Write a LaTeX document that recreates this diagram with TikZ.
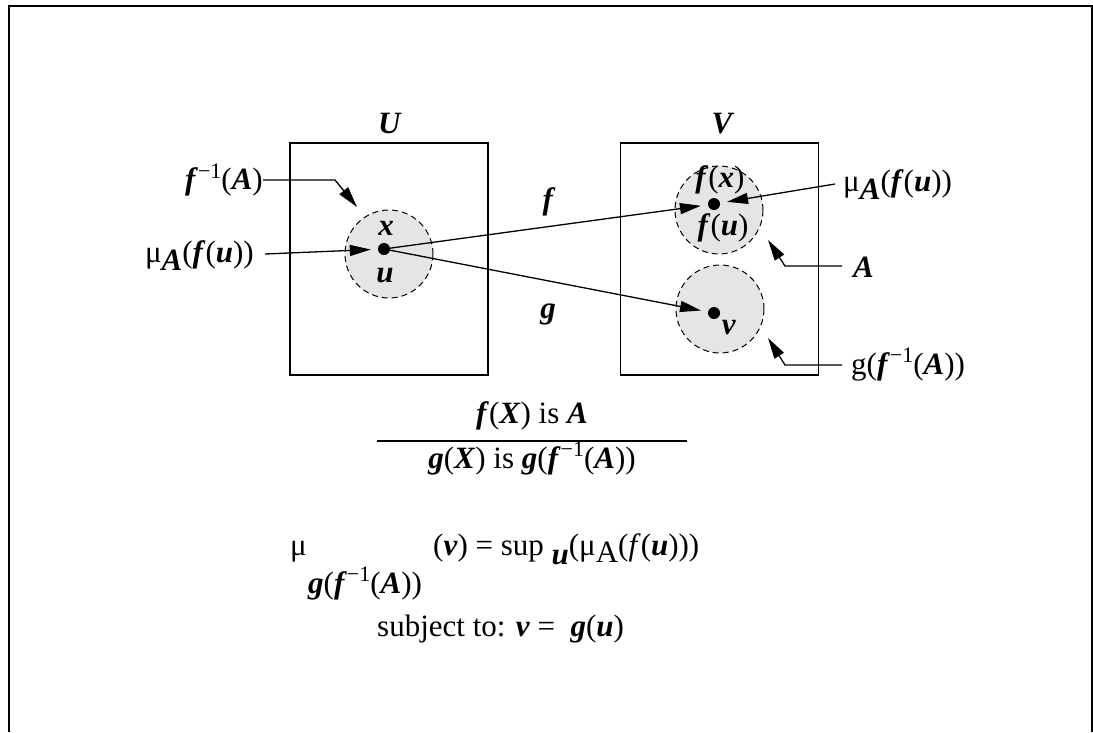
\documentclass[tikz,border=0pt]{standalone}
\usepackage{fontspec}
\setmainfont{Liberation Serif}
\usetikzlibrary{arrows.meta}
\newcommand{\mv}[1]{\textbf{\textit{#1}}}
\newcommand{\minv}{\raisebox{0.36em}{\fontsize{22}{22}\selectfont −1}}
\begin{document}
\begin{tikzpicture}[x=1pt,y=-1pt,
  every node/.style={inner sep=0pt, font=\fontsize{31}{36}\selectfont},
  setbox/.style={draw, line width=1.3pt, minimum width=198pt, minimum height=232pt},
  fuzzy/.style={draw, dashed, dash pattern=on 6pt off 4pt, line width=1pt, fill=black!10, circle, minimum size=88pt},
  pt/.style={circle, fill=black, minimum size=12pt},
  arr/.style={line width=1.3pt, -{Triangle[length=21pt,width=11pt]}},
  lbl/.style={anchor=base}]
\useasboundingbox (0,0) rectangle (1093,732);
\draw[line width=2pt] (9,732) -- (9,6) -- (1092,6) -- (1092,732);
% sets
\node[setbox] (U) at (389,259) {};
\node[setbox] (V) at (719.5,259) {};
\node[lbl] (Ul) at (390,133) {\mv{U}};
\node[lbl] (Vl) at (723,133) {\mv{V}};
% fuzzy sets
\node[fuzzy] (cU) at (389,254) {};
\node[fuzzy] (cA) at (719,210) {};
\node[fuzzy] (cG) at (720,309) {};
% points
\node[pt] (dU) at (384,249) {};
\node[pt] (dA) at (714,204) {};
\node[pt] (dV) at (714,313) {};
\node[lbl] (xl) at (386,235) {\mv{x}};
\node[lbl] (ul) at (385,282) {\mv{u}};
\node[lbl] (fx) at (720,187) {\mv{f}(\mv{x})};
\node[lbl] (fu) at (723,235) {\mv{f}(\mv{u})};
\node[lbl] (vl) at (729,334) {\mv{v}};
% mappings
\draw[arr, shorten >=7pt] (dU) -- (dA);
\draw[arr, shorten >=7pt] (dU) -- (dV);
\node[lbl] (fl) at (549,209) {\mv{f}};
\node[lbl] (gl) at (548,318) {\mv{g}};
% left labels
\node[anchor=east] (finv) at (263,180) {\mv{f}\minv(\mv{A})};
\draw[arr] (finv.east) -- (335,180) coordinate (k1) -- (357,207) coordinate (t1);
\node[anchor=base east] (lmu) at (254,262) {μ\raisebox{-8pt}{\mv{A}}(\mv{f}(\mv{u}))};
\coordinate (s2) at (265,254);
\draw[arr, shorten >=7pt] (s2) -- (dU);
% right labels
\node[anchor=base west] (rmu) at (843,191) {μ\raisebox{-8pt}{\mv{A}}(\mv{f}(\mv{u}))};
\coordinate (s3) at (835,184);
\draw[arr, shorten >=7pt] (s3) -- (dA);
\node[anchor=base west] (Al) at (853,277) {\mv{A}};
\coordinate (s4) at (842,266);
\draw[arr] (s4) -- (785,266) coordinate (k4) -- (768,240) coordinate (t4);
\node[anchor=base west] (gl2) at (851,374) {g(\mv{f}\minv(\mv{A}))};
\coordinate (s5) at (842,365);
\draw[arr] (s5) -- (785,365) coordinate (k5) -- (768,338) coordinate (t5);
% inference rule
\node[lbl] (prem) at (532,423) {\mv{f}(\mv{X}) is \mv{A}};
\draw[line width=1.3pt] (377,441) coordinate (fr1) -- (687,441) coordinate (fr2);
\node[lbl] (conc) at (532,468) {\mv{g}(\mv{X}) is \mv{g}(\mv{f}\minv(\mv{A}))};
% membership formula
\node[anchor=base west] (mu) at (290,555) {μ};
\node[anchor=base west] (musub) at (308,593) {\mv{g}(\mv{f}\minv(\mv{A}))};
\node[anchor=base west] (rhs) at (433,555) {(\mv{v}) = sup \raisebox{-9pt}{\mv{u}}(μ\raisebox{-7pt}{A}(\textit{f}(\mv{u})))};
\node[anchor=base west] (subj) at (377,636) {subject to: \mv{v} = \ \mv{g}(\mv{u})};
\end{tikzpicture}
\end{document}
